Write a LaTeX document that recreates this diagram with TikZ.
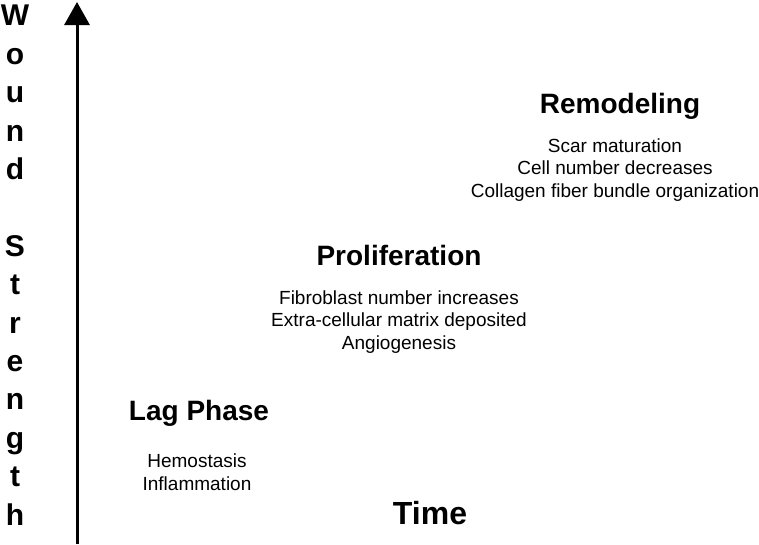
\documentclass[tikz,border=0pt]{standalone}
\usepackage{fontspec}
\setmainfont{Liberation Sans}
\usepackage{tikz}
\usetikzlibrary{arrows.meta,positioning}

\tikzset{
    phase/.style={font=\fontsize{28}{32}\selectfont\bfseries, anchor=base, inner sep=0pt},
    steps/.style={font=\fontsize{19}{22.5}\selectfont, align=center, anchor=base, inner sep=0pt},
    axis/.style={line width=3pt, -{Triangle[width=25pt,length=23pt]}}
}

\begin{document}
\begin{tikzpicture}[x=1pt,y=-1pt]
    \useasboundingbox (0,0) rectangle (759,544);
    \coordinate (axisbot) at (77,544);
    \coordinate (axistop) at (77,2);
    \draw[axis] (axisbot) -- (axistop);
    % base anchor = last line
    \node[font=\fontsize{30}{38.4}\selectfont\bfseries, align=center, anchor=base, inner sep=0pt] (ylab) at (15,525)
        {W\\o\\u\\n\\d\\[38.4pt]S\\t\\r\\e\\n\\g\\t\\h};
    % phases
    \node[phase] (remod) at (620,113) {Remodeling};
    \node[steps] (remodtxt) at (615,197) {Scar maturation\\Cell number decreases\\Collagen fiber bundle organization};
    \node[phase] (prolif) at (399,265) {Proliferation};
    \node[steps] (prolitxt) at (399,349) {Fibroblast number increases\\Extra-cellular matrix deposited\\Angiogenesis};
    \node[phase] (lag) at (199,420) {Lag Phase};
    \node[steps] (lagtxt) at (197,490) {Hemostasis\\Inflammation};
    \node[font=\fontsize{32}{36}\selectfont\bfseries, anchor=base, inner sep=0pt] (time) at (430,524) {Time};
\end{tikzpicture}
\end{document}
